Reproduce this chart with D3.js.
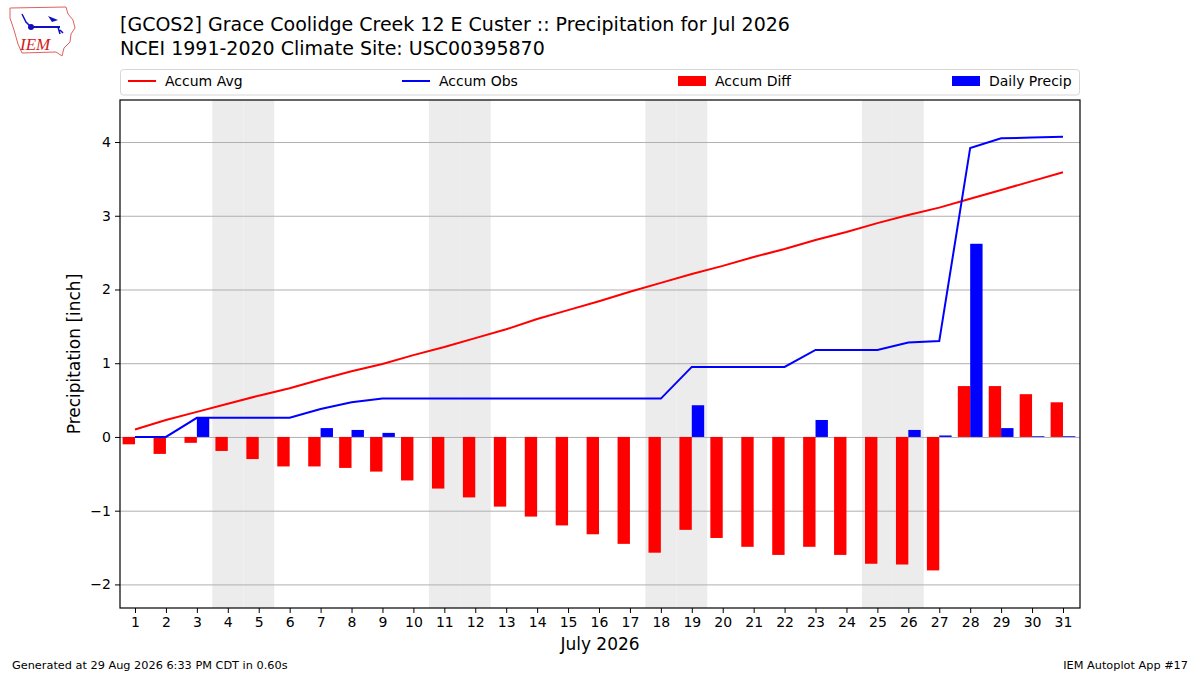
<!doctype html>
<meta charset="utf-8">
<title>Precipitation</title>
<script src="https://cdn.jsdelivr.net/npm/d3@7/dist/d3.min.js"></script>
<style>
  body { margin: 0; background: #fff; }
  text { font-family: "DejaVu Sans", sans-serif; fill: #000; }
  .tick text { font-size: 14px; }
  .grid line { stroke: #b0b0b0; stroke-width: 1px; }
</style>
<svg id="chart" width="1200" height="675"></svg>
<script>
// day of month
var days = d3.range(1, 32);
// accumulated climatology (inch)
var accumAvg = [0.10, 0.23, 0.34, 0.45, 0.56, 0.66, 0.78, 0.89, 0.99, 1.11,
  1.22, 1.34, 1.46, 1.60, 1.72, 1.84, 1.97, 2.09, 2.21, 2.32,
  2.44, 2.55, 2.67, 2.78, 2.90, 3.01, 3.11, 3.23, 3.35, 3.47, 3.59];
// accumulated observed (inch)
var accumObs = [0.00, 0.00, 0.26, 0.26, 0.26, 0.26, 0.38, 0.47, 0.52, 0.52,
  0.52, 0.52, 0.52, 0.52, 0.52, 0.52, 0.52, 0.52, 0.95, 0.95,
  0.95, 0.95, 1.18, 1.18, 1.18, 1.28, 1.30, 3.92, 4.05, 4.06, 4.07];
// accumulated departure (inch)
var accumDiff = [-0.10, -0.23, -0.08, -0.19, -0.30, -0.40, -0.40, -0.42, -0.47, -0.59,
  -0.70, -0.82, -0.945, -1.08, -1.20, -1.32, -1.45, -1.57, -1.26, -1.37,
  -1.49, -1.60, -1.49, -1.60, -1.72, -1.73, -1.81, 0.69, 0.69, 0.58, 0.47];
// daily precipitation (inch)
var dailyPrecip = [0, 0, 0.26, 0, 0, 0, 0.12, 0.095, 0.055, 0,
  0, 0, 0, 0, 0, 0, 0, 0, 0.43, 0,
  0, 0, 0.23, 0, 0, 0.095, 0.02, 2.62, 0.12, 0.01, 0.01];
// weekend days in July 2026
var weekends = [4, 5, 11, 12, 18, 19, 25, 26];
var yTicks = [-2, -1, 0, 1, 2, 3, 4];

var svg = d3.select("#chart");
var pl = 120, pr = 1080, pt = 100, pb = 608;

var x = d3.scaleLinear().domain([0.515, 31.55]).range([pl, pr]);
var y = d3.scaleLinear().domain([-2.32, 4.57]).range([pb, pt]);
var bw = x(1.4) - x(1);

// weekend shading
svg.append("g").selectAll("rect").data(weekends).join("rect")
  .attr("x", d => x(d - 0.5)).attr("width", x(1.5) - x(0.5))
  .attr("y", pt).attr("height", pb - pt)
  .attr("fill", "#ececec");

// grid
svg.append("g").attr("class", "grid")
  .attr("transform", "translate(" + pl + ",0)")
  .call(d3.axisLeft(y).tickValues(yTicks).tickSize(-(pr - pl)).tickFormat(""))
  .call(g => g.select(".domain").remove());

// diff bars
svg.append("g").selectAll("rect").data(days).join("rect")
  .attr("x", d => x(d - 0.4))
  .attr("width", bw)
  .attr("y", (d, i) => y(Math.max(0, accumDiff[i])))
  .attr("height", (d, i) => Math.abs(y(accumDiff[i]) - y(0)))
  .attr("fill", "#ff0000");

// daily bars
svg.append("g").selectAll("rect").data(days).join("rect")
  .attr("x", d => x(d))
  .attr("width", bw)
  .attr("y", (d, i) => y(dailyPrecip[i]))
  .attr("height", (d, i) => y(0) - y(dailyPrecip[i]))
  .attr("fill", "#0000ff");

var line = d3.line().x(d => x(d[0])).y(d => y(d[1]));
svg.append("path").datum(days.map((d, i) => [d, accumAvg[i]]))
  .attr("d", line).attr("fill", "none").attr("stroke", "#ff0000").attr("stroke-width", 2);
svg.append("path").datum(days.map((d, i) => [d, accumObs[i]]))
  .attr("d", line).attr("fill", "none").attr("stroke", "#0000ff").attr("stroke-width", 2);

// frame
svg.append("rect").attr("x", pl).attr("y", pt)
  .attr("width", pr - pl).attr("height", pb - pt)
  .attr("fill", "none").attr("stroke", "#000").attr("stroke-width", 1.2);

// axes
var fmt = d => (d < 0 ? "\u2212" + Math.abs(d) : "" + d);
svg.append("g").attr("transform", "translate(" + pl + ",0)")
  .call(d3.axisLeft(y).tickValues(yTicks).tickFormat(fmt).tickSize(5).tickPadding(4))
  .call(g => g.select(".domain").remove());
svg.append("g").attr("transform", "translate(0," + pb + ")")
  .call(d3.axisBottom(x).tickValues(days).tickFormat(d3.format("d")).tickSize(5).tickPadding(4))
  .call(g => g.select(".domain").remove());

svg.append("text").attr("x", 600).attr("y", 650).attr("text-anchor", "middle")
  .style("font-size", "17px").text("July 2026");
svg.append("text").attr("transform", "translate(80," + ((pt + pb) / 2) + ") rotate(-90)")
  .attr("text-anchor", "middle").style("font-size", "17px").text("Precipitation [inch]");

// titles
svg.append("text").attr("x", 120).attr("y", 31).style("font-size", "19px")
  .text("[GCOS2] Grace Coolidge Creek 12 E Custer :: Precipitation for Jul 2026");
svg.append("text").attr("x", 120).attr("y", 55).style("font-size", "19px")
  .text("NCEI 1991-2020 Climate Site: USC00395870");

// legend
var lg = svg.append("g");
lg.append("rect").attr("x", 120.5).attr("y", 69.5).attr("width", 959).attr("height", 25.5)
  .attr("rx", 3).attr("fill", "#fff").attr("stroke", "#d6d6d6");
var items = [
  {label: "Accum Avg", color: "#ff0000", kind: "line", x: 128},
  {label: "Accum Obs", color: "#0000ff", kind: "line", x: 402},
  {label: "Accum Diff", color: "#ff0000", kind: "bar", x: 678},
  {label: "Daily Precip", color: "#0000ff", kind: "bar", x: 952}
];
items.forEach(function (it) {
  if (it.kind === "line") {
    lg.append("line").attr("x1", it.x).attr("x2", it.x + 28).attr("y1", 81).attr("y2", 81)
      .attr("stroke", it.color).attr("stroke-width", 2);
  } else {
    lg.append("rect").attr("x", it.x).attr("y", 76).attr("width", 28).attr("height", 10)
      .attr("fill", it.color);
  }
  lg.append("text").attr("x", it.x + 37).attr("y", 86).style("font-size", "14px").text(it.label);
});

// footer
svg.append("text").attr("x", 12).attr("y", 669).style("font-size", "11.3px")
  .text("Generated at 29 Aug 2026 6:33 PM CDT in 0.60s");
svg.append("text").attr("x", 1188).attr("y", 669).attr("text-anchor", "end").style("font-size", "11.3px")
  .text("IEM Autoplot App #17");

// logo
var logo = svg.append("g");
logo.append("path")
  .attr("d", "M10,8 L66,7 L68,14 L73,20 L75,28 L71,34 L70,42 L64,48 L62,56 L56,52 L22,53 L18,44 L14,30 L10,18 Z")
  .attr("fill", "none").attr("stroke", "#e06060").attr("stroke-width", 1);
logo.append("line").attr("x1", 31).attr("y1", 27).attr("x2", 60).attr("y2", 27)
  .attr("stroke", "#1010c0").attr("stroke-width", 2);
logo.append("circle").attr("cx", 31).attr("cy", 27).attr("r", 3).attr("fill", "#1010c0");
logo.append("path").attr("d", "M48,16 L58,20 L52,22 Z").attr("fill", "#1010c0");
logo.append("path").attr("d", "M22,14 L26,22 L30,26 M58,27 L60,34 M60,30 L63,33")
  .attr("fill", "none").attr("stroke", "#1010c0").attr("stroke-width", 1.5);
logo.append("text").attr("x", 20).attr("y", 50)
  .style("font-family", "'Liberation Serif', serif").style("font-style", "italic")
  .style("font-size", "17px").style("fill", "#d02020").text("IEM");
</script>
